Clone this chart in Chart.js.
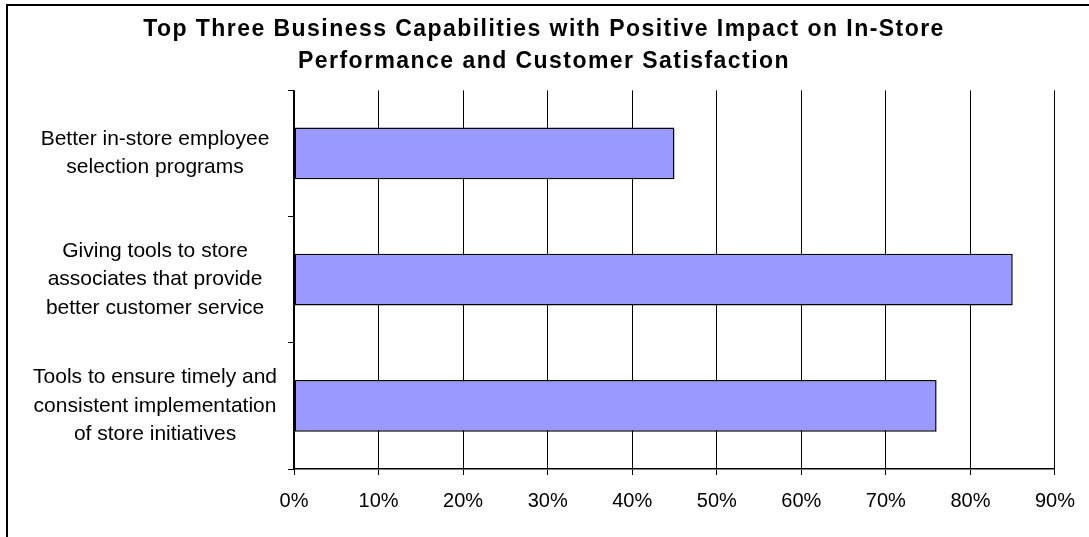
<!DOCTYPE html>
<html>
<head>
<meta charset="utf-8">
<script src="https://cdn.jsdelivr.net/npm/chart.js@4"></script>
<style>
  body { margin: 0; background: #fff; overflow: hidden; }
  #frame {
    position: absolute; left: 6px; top: 4px; width: 1200px; height: 600px;
    border-left: 2px solid #000; border-top: 2px solid #000; pointer-events: none;
  }
</style>
</head>
<body>
<canvas id="chart" width="1089" height="537"></canvas>
<div id="frame"></div>
<script>
//data
const categories = [
  ['Better in-store employee', 'selection programs'],
  ['Giving tools to store', 'associates that provide', 'better customer service'],
  ['Tools to ensure timely and', 'consistent implementation', 'of store initiatives'],
]
const values = [45, 85, 76]
const titleLines = [
  'Top Three Business Capabilities with Positive Impact on In-Store',
  'Performance and Customer Satisfaction',
]
const xTicks = { min: 0, max: 90, step: 10 }

const fontFamily = "'Liberation Sans', Arial, sans-serif"
const padLeft = 32

// the bold title in the original is set a bit wider, only the title gets the spacing
let titleSpacing = {
  id: 'titleSpacing',
  beforeDraw(chart) {
    chart.ctx.letterSpacing = '1.45px'
  },
  beforeDatasetsDraw(chart) {
    chart.ctx.letterSpacing = '0px'
  },
  afterDraw(chart) {
    chart.ctx.letterSpacing = '0px'
  },
}

let ctx = document.getElementById('chart').getContext('2d')

var bar = new Chart(ctx, {
  type: 'bar',
  data: {
    labels: categories,
    datasets: [
      {
        data: values,
        backgroundColor: '#9999ff',
        borderColor: '#000',
        borderWidth: 1.5,
        borderSkipped: false,
        barPercentage: 0.41,
        categoryPercentage: 1,
      },
    ],
  },
  options: {
    indexAxis: 'y',
    responsive: false,
    animation: false,
    layout: {
      padding: { top: 13, right: 33, bottom: 10, left: padLeft },
    },
    scales: {
      x: {
        min: xTicks.min,
        max: xTicks.max,
        grid: {
          color: '#000',
          lineWidth: 1,
          tickLength: 6,
        },
        border: { color: '#000', width: 1.5 },
        ticks: {
          z: 1,
          stepSize: xTicks.step,
          padding: 14,
          color: '#000',
          font: { family: fontFamily, size: 20 },
          callback: (v) => v + '%',
        },
      },
      y: {
        afterFit: (scale) => {
          scale.width = 294 - padLeft
        },
        grid: {
          offset: true,
          drawOnChartArea: false,
          color: '#000',
          tickLength: 6,
        },
        border: { color: '#000', width: 1.5 },
        ticks: {
          z: 1,
          crossAlign: 'center',
          padding: 11,
          color: '#000',
          font: { family: fontFamily, size: 21, lineHeight: 1.35 },
        },
      },
    },
    plugins: {
      legend: { display: false },
      tooltip: { enabled: false },
      title: {
        display: true,
        text: titleLines,
        color: '#000',
        font: { family: fontFamily, size: 23, weight: 'bold', lineHeight: 1.42 },
        padding: { top: 0, bottom: 12 },
      },
    },
  },
  plugins: [titleSpacing],
})
</script>
</body>
</html>
